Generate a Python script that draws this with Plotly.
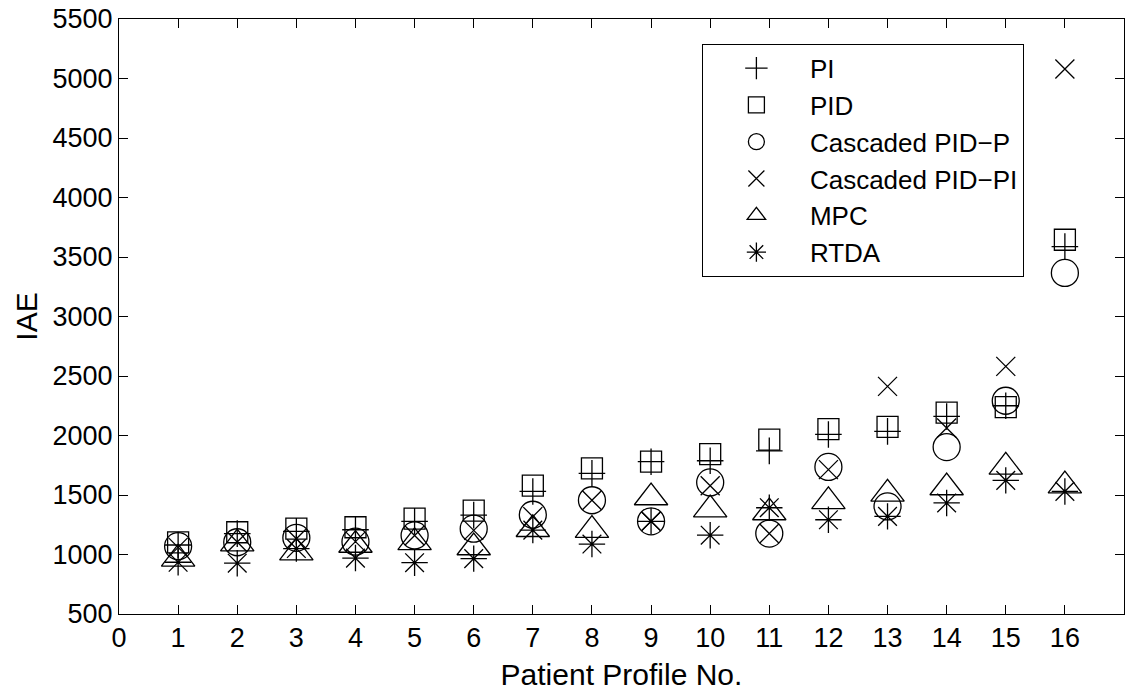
import plotly.graph_objects as go

profiles = list(range(1, 17))

pi_vals = [1080, 1175, 1194, 1208, 1279, 1331, 1530, 1682, 1780, 1788, 1871, 2009, 2035, 2160, 2250, 3588]
pid_vals = [1102, 1187, 1218, 1229, 1301, 1368, 1578, 1724, 1780, 1843, 1966, 2053, 2072, 2193, 2238, 3645]
cpid_p_vals = [1070, 1103, 1140, 1108, 1160, 1217, 1334, 1456, 1279, 1606, 1176, 1736, 1404, 1903, 2292, 3366]
cpid_pi_vals = [1060, 1105, 1133, 1108, 1160, 1203, 1318, 1456, 1279, 1578, 1176, 1713, 2413, 2063, 2581, 5080]
mpc_vals = [964, 1092, 1016, 1080, 1102, 1059, 1212, 1205, 1479, 1377, 1353, 1447, 1509, 1563, 1737, 1579]
rtda_vals = [935, 927, 1050, 970, 931, 965, 1205, 1088, 1279, 1162, 1393, 1292, 1320, 1433, 1623, 1530]

x_ticks = list(range(0, 17))
y_ticks = list(range(500, 5501, 500))

series = [
    ("PI", pi_vals, "cross-thin-open", 19),
    ("PID", pid_vals, "square-open", 21),
    ("Cascaded PID\u2212P", cpid_p_vals, "circle-open", 27),
    ("Cascaded PID\u2212PI", cpid_pi_vals, "x-thin-open", 19),
    ("MPC", mpc_vals, "triangle-up-open", 29),
    ("RTDA", rtda_vals, "asterisk-open", 22),
]

FONT = "Liberation Sans, Arial, Helvetica, sans-serif"

fig = go.Figure()
for i, (name, vals, sym, size) in enumerate(series):
    fig.add_trace(go.Scatter(
        x=profiles, y=vals, mode="markers", name=name, legendgroup=f"g{i}",
        marker=dict(symbol=sym, size=size, color="black",
                    line=dict(color="black", width=1.3)),
    ))

axis_common = dict(
    showline=True, linecolor="black", linewidth=1, mirror="ticks",
    ticks="inside", ticklen=9, tickcolor="black", tickwidth=1,
    showgrid=False, zeroline=False, automargin=False,
    tickfont=dict(family=FONT, size=27, color="black"),
)

fig.update_layout(
    width=1125, height=691,
    margin=dict(l=119, r=1, t=19, b=77),
    paper_bgcolor="white", plot_bgcolor="white",
    font=dict(family=FONT, color="black"),
    xaxis=dict(range=[0, 17], tickmode="array", tickvals=x_ticks,
               title=dict(text="Patient Profile No.", font=dict(size=30), standoff=12),
               **axis_common),
    yaxis=dict(range=[500, 5500], tickmode="array", tickvals=y_ticks,
               title=dict(text="IAE", font=dict(size=30), standoff=6),
               **axis_common),
    legend=dict(x=0.58, y=0.9585, xanchor="left", yanchor="top",
                bordercolor="black", borderwidth=1, bgcolor="white",
                font=dict(family=FONT, size=26, color="black"),
                itemwidth=97, tracegroupgap=3, traceorder="normal"),
    showlegend=True,
)

fig.write_html("out.html")
